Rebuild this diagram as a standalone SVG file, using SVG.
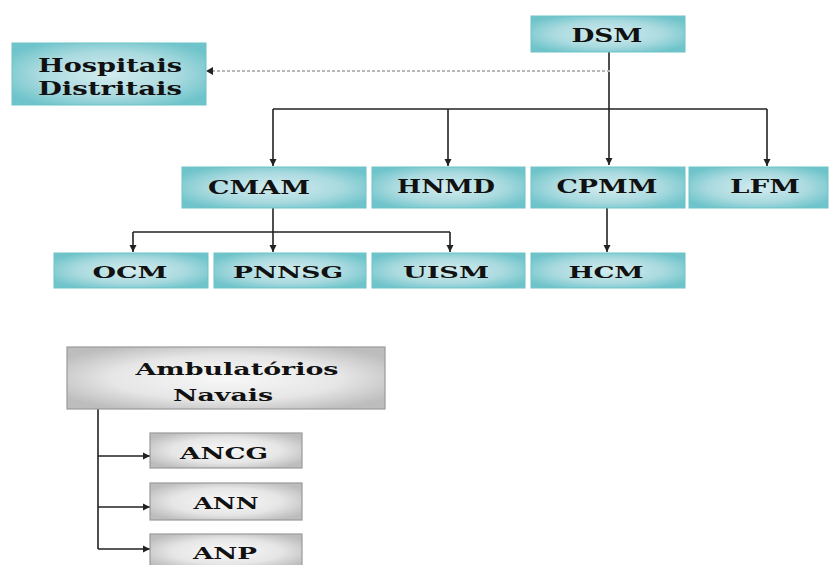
<svg xmlns="http://www.w3.org/2000/svg" width="829" height="565" viewBox="0 0 829 565">
<defs>
<radialGradient id="teal" cx="50%" cy="50%" r="60%">
<stop offset="0" stop-color="#d3ecef"/>
<stop offset="0.6" stop-color="#a9dadf"/>
<stop offset="1" stop-color="#6ec4ca"/>
</radialGradient>
<radialGradient id="gray" cx="50%" cy="50%" r="60%">
<stop offset="0" stop-color="#f8f8f8"/>
<stop offset="0.6" stop-color="#e6e6e6"/>
<stop offset="1" stop-color="#bdbdbd"/>
</radialGradient>
<marker id="arr" markerWidth="8" markerHeight="8" refX="7" refY="4" orient="auto" markerUnits="userSpaceOnUse">
<path d="M0,0.5 L7,4 L0,7.5 Z" fill="#222"/>
</marker>
</defs>
<style>
.t rect{fill:url(#teal);stroke:#6cc3c8;stroke-width:1}
.g rect{fill:url(#gray);stroke:#9a9a9a;stroke-width:1.2}
text{font-family:"DejaVu Serif","Liberation Serif",serif;font-weight:bold;fill:#111;text-anchor:middle}
.l{font-size:18px}
.s{font-size:16px}
.c line,.c path{stroke:#222;stroke-width:1.6;fill:none}
</style>
<rect width="829" height="565" fill="#fff"/>
<g class="c" id="connectors">
<line x1="609" y1="52" x2="609" y2="165" marker-end="url(#arr)"/>
<path d="M273,109 H767"/>
<line x1="273" y1="109" x2="273" y2="166" marker-end="url(#arr)"/>
<line x1="448" y1="109" x2="448" y2="166" marker-end="url(#arr)"/>
<line x1="767" y1="109" x2="767" y2="166" marker-end="url(#arr)"/>
<line x1="273" y1="208" x2="273" y2="252" marker-end="url(#arr)"/>
<path d="M133,232 H450"/>
<line x1="133" y1="232" x2="133" y2="252" marker-end="url(#arr)"/>
<line x1="450" y1="232" x2="450" y2="252" marker-end="url(#arr)"/>
<line x1="607" y1="208" x2="607" y2="252" marker-end="url(#arr)"/>
<line x1="610" y1="71" x2="209" y2="71" stroke-dasharray="3,2" style="stroke:#b8b8b8;stroke-width:1.8"/>
<path d="M213,67 L206,71 L213,75 Z" style="fill:#222;stroke:none"/>
<path d="M98,409 V549"/>
<line x1="98" y1="456" x2="150" y2="456" marker-end="url(#arr)"/>
<line x1="98" y1="507" x2="150" y2="507" marker-end="url(#arr)"/>
<line x1="98" y1="549" x2="150" y2="549" marker-end="url(#arr)"/>
</g>
<g id="dsm" class="t"><rect x="531" y="16" width="154" height="36"/><text class="l" x="607" y="42" textLength="71" lengthAdjust="spacingAndGlyphs">DSM</text></g>
<g id="hospitais" class="t"><rect x="12" y="43" width="194" height="62"/><text class="l" x="110" y="72" textLength="144" lengthAdjust="spacingAndGlyphs">Hospitais</text><text class="l" x="110" y="95" textLength="144" lengthAdjust="spacingAndGlyphs">Distritais</text></g>
<g id="cmam" class="t"><rect x="182" y="167" width="184" height="41"/><text class="l" x="259" y="194" textLength="102" lengthAdjust="spacingAndGlyphs">CMAM</text></g>
<g id="hnmd" class="t"><rect x="372" y="167" width="153" height="41"/><text class="l" x="446" y="193" textLength="98" lengthAdjust="spacingAndGlyphs">HNMD</text></g>
<g id="cpmm" class="t"><rect x="531" y="167" width="154" height="41"/><text class="l" x="607" y="193" textLength="101" lengthAdjust="spacingAndGlyphs">CPMM</text></g>
<g id="lfm" class="t"><rect x="689" y="167" width="139" height="41"/><text class="l" x="765" y="193" textLength="70" lengthAdjust="spacingAndGlyphs">LFM</text></g>
<g id="ocm" class="t"><rect x="54" y="253" width="154" height="35"/><text class="s" x="130" y="278" textLength="75" lengthAdjust="spacingAndGlyphs">OCM</text></g>
<g id="pnnsg" class="t"><rect x="214" y="253" width="152" height="35"/><text class="s" x="288" y="278" textLength="110" lengthAdjust="spacingAndGlyphs">PNNSG</text></g>
<g id="uism" class="t"><rect x="372" y="253" width="153" height="35"/><text class="s" x="446" y="278" textLength="86" lengthAdjust="spacingAndGlyphs">UISM</text></g>
<g id="hcm" class="t"><rect x="531" y="253" width="154" height="35"/><text class="s" x="606" y="278" textLength="75" lengthAdjust="spacingAndGlyphs">HCM</text></g>
<g id="ambulatorios" class="g"><rect x="67" y="347" width="318" height="62"/><text class="s" x="237" y="375" textLength="203" lengthAdjust="spacingAndGlyphs">Ambulatórios</text><text class="s" x="223" y="401" textLength="100" lengthAdjust="spacingAndGlyphs">Navais</text></g>
<g id="ancg" class="g"><rect x="150" y="433" width="152" height="35"/><text class="s" x="224" y="459" textLength="88" lengthAdjust="spacingAndGlyphs">ANCG</text></g>
<g id="ann" class="g"><rect x="150" y="483" width="152" height="37"/><text class="s" x="226" y="509" textLength="65" lengthAdjust="spacingAndGlyphs">ANN</text></g>
<g id="anp" class="g"><rect x="150" y="534" width="152" height="35"/><text class="s" x="225" y="559" textLength="64" lengthAdjust="spacingAndGlyphs">ANP</text></g>
</svg>
